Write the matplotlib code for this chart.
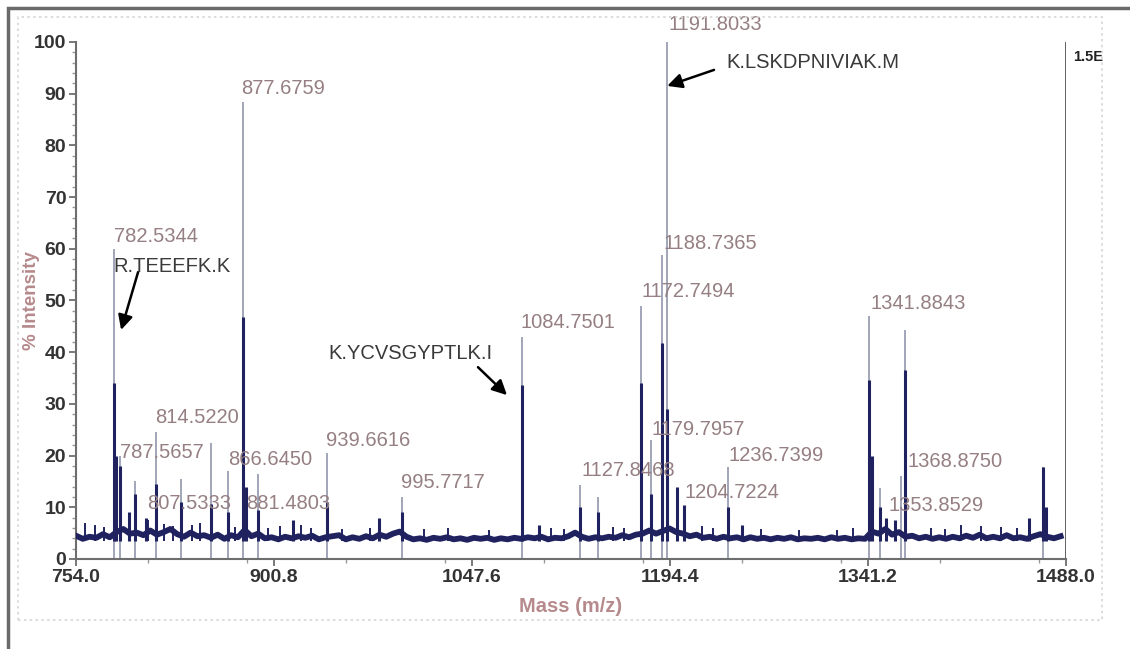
import numpy as np
import matplotlib.pyplot as plt
from matplotlib.patches import Rectangle
from matplotlib.ticker import MultipleLocator

plt.rcParams['font.family'] = ['Liberation Sans', 'DejaVu Sans']

# baseline noise, one value every 5 m/z from 754
base_start, base_step = 754, 5
baseline = [
    4.5, 3.9, 4.3, 4.1, 4.8, 4.2, 5.2, 5.8, 4.9, 5.1,
    4.6, 5.5, 4.7, 5.2, 5.8, 4.8, 4.3, 5.1, 4.4, 4.6,
    4.1, 4.7, 3.9, 4.6, 4.2, 5.6, 4.4, 4.9, 4.0, 4.2,
    3.8, 4.3, 4.0, 4.4, 4.1, 4.5, 3.8, 4.2, 4.4, 4.6,
    3.8, 4.2, 3.9, 4.4, 4.0, 4.7, 4.3, 4.9, 5.3, 4.3,
    3.8, 4.0, 3.7, 4.1, 3.9, 4.2, 3.8, 4.0, 3.7, 4.1,
    3.9, 4.1, 3.7, 4.0, 3.8, 4.1, 3.9, 4.2, 4.0, 4.3,
    3.8, 4.1, 4.0, 4.4, 5.1, 4.3, 3.9, 4.2, 4.0, 4.3,
    4.1, 4.6, 4.2, 4.7, 4.9, 5.5, 4.9, 5.4, 5.9, 5.2,
    4.9, 4.4, 4.7, 4.1, 4.3, 3.9, 4.3, 4.0, 4.2, 3.8,
    4.2, 3.9, 4.1, 3.8, 4.1, 3.9, 4.2, 3.8, 4.0, 3.9,
    4.1, 3.8, 4.2, 3.9, 4.1, 3.8, 4.0, 3.9, 5.3, 4.9,
    5.8, 4.7, 5.2, 4.3, 4.5, 4.0, 4.3, 3.9, 4.2, 3.9,
    4.3, 4.0, 4.5, 4.1, 4.7, 4.0, 4.3, 4.0, 4.6, 4.0,
    4.2, 3.9, 4.4, 4.8, 4.3, 4.0, 4.4,
]

# small noise spikes
spike_mz = [761, 768, 775, 807, 819, 826, 840, 846, 872, 896, 905, 921, 928,
            951, 972, 1012, 1030, 1060, 1106, 1116, 1152, 1160, 1218, 1226,
            1262, 1290, 1318, 1330, 1388, 1398, 1410, 1425, 1440, 1452]
spike_int = [7.0, 6.5, 6.2, 7.5, 6.8, 6.4, 6.6, 7.0, 6.2, 6.0, 6.4, 6.5, 6.0,
             5.8, 6.0, 5.8, 5.9, 5.6, 6.0, 5.8, 6.2, 6.0, 6.4, 6.0,
             5.8, 5.6, 5.7, 5.9, 6.0, 5.8, 6.6, 6.4, 6.2, 6.0]

# centroid sticks (thin grey)
stick_mz = [782.5, 786.6, 797.7, 813.3, 831.8, 854.1, 866.7, 877.7, 888.9,
            939.7, 995.8, 1084.8, 1127.8, 1141.0, 1172.7, 1180.3, 1188.7,
            1191.8, 1237.4, 1341.9, 1350.1, 1366.0, 1368.9, 1470.9]
stick_int = [60, 20, 15, 24.5, 15.5, 22.4, 17, 88.4, 16.4,
             20.5, 12, 43, 14.3, 12, 49, 23, 58.8,
             100, 17.8, 47, 13.7, 16, 44.3, 17.8]

# profile peaks (navy)
prof_mz = [782.5, 783.7, 786.6, 793.0, 797.7, 805.9, 813.3, 831.8, 854.1,
           866.7, 877.7, 880.0, 888.9, 914.9, 939.7, 978.6, 995.8, 1084.8,
           1097.3, 1127.8, 1141.0, 1172.7, 1180.3, 1188.7, 1191.8, 1199.6,
           1204.8, 1237.4, 1247.8, 1341.9, 1344.0, 1350.1, 1354.5, 1361.2,
           1368.9, 1460.5, 1470.9, 1473.0]
prof_int = [34, 20, 18, 9, 12.5, 8, 14.5, 11, 10.6,
            9, 46.8, 14, 9.5, 7.5, 11, 8, 9, 33.7,
            6.5, 10, 9, 34, 12.5, 41.8, 29, 14,
            10.5, 10, 6.5, 34.6, 20, 10, 8, 7.5,
            36.5, 8, 17.8, 10]

# peak mass labels: text, x, y
mass_labels = ['782.5344', '877.6759', '787.5657', '814.5220', '807.5333',
               '866.6450', '881.4803', '939.6616', '995.7717', '1084.7501',
               '1127.8468', '1172.7494', '1188.7365', '1191.8033', '1179.7957',
               '1204.7224', '1236.7399', '1341.8843', '1368.8750', '1353.8529']
label_x = [782.2, 876.3, 786.6, 812.6, 806.6,
           866.7, 880.0, 939.4, 995.0, 1083.2,
           1128.4, 1172.9, 1189.2, 1192.9, 1180.8,
           1204.8, 1237.4, 1342.7, 1370.1, 1356.0]
label_y = [62.3, 91.0, 20.6, 27.3, 10.8,
           19.3, 10.8, 23.0, 14.7, 45.8,
           17.2, 51.8, 61.1, 103.3, 25.1,
           12.8, 20.1, 49.5, 18.8, 10.3]

# peptide annotations: text, text position, arrow start, arrow end
peptides = ['R.TEEEFK.K', 'K.YCVSGYPTLK.I', 'K.LSKDPNIVIAK.M']
pep_x = [781.5, 940.8, 1235.9]
pep_y = [56.5, 39.7, 96.1]
arrow_from = [(800.0, 55.5), (1052.0, 37.1), (1227.0, 94.6)]
arrow_to = [(787.4, 44.3), (1073.5, 31.7), (1192.3, 91.5)]

xticks = [754.0, 900.8, 1047.6, 1194.4, 1341.2, 1488.0]

fig = plt.figure(figsize=(11.3, 6.49), dpi=100)
ax = fig.add_axes([0.0673, 0.1387, 0.8761, 0.7966])

navy = '#1f225e'
base_x = base_start + base_step * np.arange(len(baseline))
ax.vlines(stick_mz, 0, stick_int, color='#9096ad', lw=1.2, zorder=2)
ax.vlines(prof_mz, 3.5, prof_int, color=navy, lw=2.2, zorder=3)
ax.vlines(spike_mz, 3.5, spike_int, color=navy, lw=1.4, zorder=3)
ax.plot(base_x, baseline, color=navy, lw=4.2, zorder=3, solid_joinstyle='round')
ax.vlines([1488.0], 0, 100, color='#555555', lw=1.3, zorder=2)

for t, x, y in zip(mass_labels, label_x, label_y):
    ax.text(x, y, t, fontsize=14.5, color='#957f82', ha='left', va='center',
            clip_on=False, zorder=4)

for t, x, y, a0, a1 in zip(peptides, pep_x, pep_y, arrow_from, arrow_to):
    ax.text(x, y, t, fontsize=14.5, color='#3a3a3a', ha='left', va='center',
            zorder=4)
    ax.annotate('', xy=a1, xytext=a0,
                arrowprops=dict(arrowstyle='-|>', color='black', lw=1.8,
                                mutation_scale=22, shrinkA=0, shrinkB=0))

ax.text(1493.2, 97.1, '1.5E', fontsize=10.5, fontweight='bold', color='#222222',
        ha='left', va='center', clip_on=False)

ax.set_xlim(754, 1488)
ax.set_ylim(0, 100)
ax.set_xticks(xticks)
ax.set_xticklabels([f'{v:.1f}' for v in xticks])
ax.xaxis.set_minor_locator(MultipleLocator(73.4))
ax.set_yticks(range(0, 101, 10))
ax.yaxis.set_minor_locator(MultipleLocator(2))

for s in ['top', 'right']:
    ax.spines[s].set_visible(False)
for s in ['left', 'bottom']:
    ax.spines[s].set_color('#6e6e6e')
    ax.spines[s].set_linewidth(1.5)
ax.tick_params(axis='both', which='major', labelsize=14, colors='#6e6e6e',
               labelcolor='#333333', length=5, width=1.3, pad=2)
ax.tick_params(axis='both', which='minor', colors='#999999', length=3, width=1)
for lab in ax.get_xticklabels() + ax.get_yticklabels():
    lab.set_fontweight('bold')

ax.set_xlabel('Mass (m/z)', fontsize=14.5, fontweight='bold', color='#b68a8c',
              labelpad=8)
ax.set_ylabel('% Intensity', fontsize=13.5, fontweight='bold', color='#b68a8c',
              labelpad=-4)

# outer frame and dotted inner panel
W, H = 1130, 649
fig.add_artist(Rectangle((8 / W, -0.2), 1.2, 1 - 8 / H + 0.2, transform=fig.transFigure,
                         fill=False, edgecolor='#6a6a6a', lw=2.5))
fig.add_artist(Rectangle((18 / W, 1 - 620 / H), (1102 - 18) / W, (620 - 17) / H,
                         transform=fig.transFigure, fill=False,
                         edgecolor='#d6d6d6', lw=1.2, linestyle=(0, (1.5, 2))))

fig.savefig('out.png', dpi=100)
